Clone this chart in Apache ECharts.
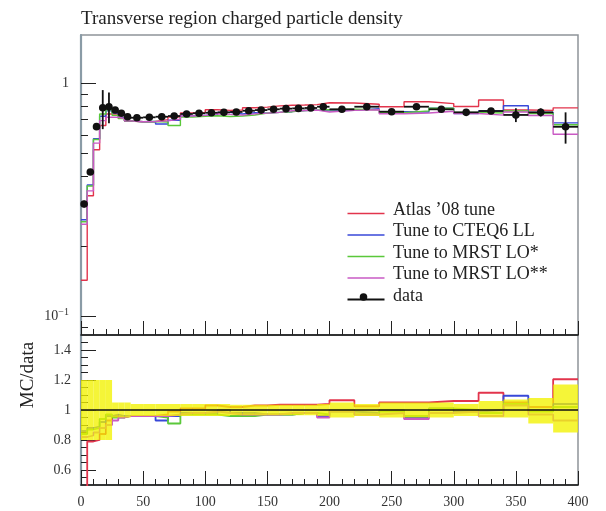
<!DOCTYPE html>
<html><head><meta charset="utf-8">
<script src="https://cdn.jsdelivr.net/npm/echarts@6/dist/echarts.min.js"></script>
<style>html,body{margin:0;padding:0;background:#fff}#c{width:606px;height:511px}</style>
</head><body><div id="c"></div><script>
// ---- data ----
const binEdges = [0,5,10,15,20,25,30,35,40,50,60,70,80,90,100,110,120,130,140,150,160,170,180,190,200,220,240,260,280,300,320,340,360,380,400];
const dataVals = [0.304,0.417,0.653,0.787,0.795,0.770,0.745,0.720,0.713,0.716,0.720,0.725,0.740,0.745,0.749,0.752,0.755,0.764,0.769,0.775,0.780,0.782,0.785,0.795,0.775,0.795,0.757,0.795,0.775,0.752,0.762,0.733,0.752,0.652];
const dataErr  = [0.010,0.010,0.012,0.150,0.120,0.020,0.012,0.010,0.008,0.008,0.008,0.008,0.008,0.008,0.008,0.008,0.008,0.009,0.009,0.009,0.010,0.010,0.010,0.012,0.015,0.015,0.015,0.018,0.018,0.018,0.020,0.050,0.030,0.100];
const mcAtlas08 = [0.143,0.330,0.520,0.660,0.740,0.740,0.710,0.690,0.685,0.687,0.700,0.718,0.747,0.752,0.771,0.767,0.770,0.787,0.792,0.802,0.807,0.809,0.812,0.827,0.825,0.815,0.795,0.835,0.820,0.797,0.850,0.770,0.767,0.786];
const mcCTEQ6  = [0.260,0.367,0.580,0.724,0.763,0.747,0.715,0.691,0.685,0.687,0.670,0.696,0.725,0.730,0.734,0.752,0.740,0.749,0.746,0.752,0.757,0.766,0.769,0.763,0.767,0.779,0.757,0.755,0.783,0.744,0.762,0.803,0.752,0.678];
const mcMRST1  = [0.255,0.363,0.575,0.740,0.771,0.730,0.708,0.691,0.685,0.687,0.684,0.660,0.718,0.723,0.727,0.722,0.725,0.733,0.746,0.752,0.757,0.766,0.769,0.771,0.775,0.771,0.749,0.763,0.783,0.752,0.747,0.762,0.744,0.665];
const mcMRST2  = [0.249,0.346,0.555,0.693,0.716,0.716,0.708,0.691,0.685,0.687,0.691,0.703,0.725,0.730,0.742,0.737,0.732,0.741,0.746,0.752,0.764,0.766,0.769,0.755,0.767,0.771,0.742,0.747,0.760,0.744,0.732,0.755,0.729,0.606];
const ratioAtlas08 = [0.47,0.79,0.80,0.84,0.93,0.96,0.95,0.96,0.96,0.96,0.97,0.99,1.01,1.01,1.03,1.02,1.02,1.03,1.03,1.035,1.035,1.035,1.035,1.04,1.065,1.025,1.05,1.05,1.06,1.06,1.115,1.05,1.02,1.205];
const ratioCTEQ6   = [0.86,0.88,0.89,0.92,0.96,0.97,0.96,0.96,0.96,0.96,0.93,0.96,0.98,0.98,0.98,1.00,0.98,0.98,0.97,0.97,0.97,0.98,0.98,0.96,0.99,0.98,1.00,0.95,1.01,0.99,1.00,1.095,1.00,1.04];
const ratioMRST1   = [0.84,0.87,0.88,0.94,0.97,0.95,0.95,0.96,0.96,0.96,0.95,0.91,0.97,0.97,0.97,0.96,0.96,0.96,0.97,0.97,0.97,0.98,0.98,0.97,1.00,0.97,0.99,0.96,1.01,1.00,0.98,1.04,0.99,1.02];
const ratioMRST2   = [0.82,0.83,0.85,0.88,0.90,0.93,0.95,0.96,0.96,0.96,0.96,0.97,0.98,0.98,0.99,0.98,0.97,0.97,0.97,0.97,0.98,0.98,0.98,0.95,0.99,0.97,0.98,0.94,0.98,0.99,0.96,1.03,0.97,0.93];
const bandLow  = [0.80,0.80,0.80,0.80,0.80,0.95,0.95,0.95,0.96,0.96,0.96,0.96,0.96,0.96,0.96,0.96,0.965,0.965,0.965,0.965,0.965,0.965,0.965,0.96,0.95,0.96,0.95,0.95,0.95,0.96,0.95,0.95,0.91,0.85];
const bandHigh = [1.20,1.20,1.20,1.20,1.20,1.05,1.05,1.05,1.04,1.04,1.04,1.04,1.04,1.04,1.04,1.04,1.035,1.035,1.035,1.035,1.035,1.035,1.035,1.04,1.05,1.04,1.05,1.05,1.05,1.04,1.06,1.07,1.08,1.17];
const xTickLabels = [0,50,100,150,200,250,300,350,400];
const mainMajorTicks = [0.1,1];
const mainMinorTicks = [0.09,0.2,0.3,0.4,0.5,0.6,0.7,0.8,0.9];
const ratioMajorTicks = [0.6,0.8,1,1.2,1.4];
const ratioMinorTicks = [0.55,0.65,0.7,0.75,0.85,0.9,0.95,1.05,1.1,1.15,1.25,1.3,1.35,1.45];
const seriesNames = ['Atlas ’08 tune','Tune to CTEQ6 LL','Tune to MRST LO*','Tune to MRST LO**'];
const seriesColors = ['#e2344c','#3848d8','#5ac83a','#c95ac4'];
const titleText = 'Transverse region charged particle density';
const ratioLabel = 'MC/data';

// ---- build ----
const serif = 'Liberation Serif';
function stepData(vals){ return binEdges.map((e,i)=>[e, vals[Math.min(i, vals.length-1)]]); }
const bins = dataVals.map((v,i)=>[binEdges[i], binEdges[i+1], v, dataErr[i]]);
const bandRows = bandLow.map((l,i)=>[binEdges[i], binEdges[i+1], l, bandHigh[i]]);

const mcUpper = [mcAtlas08, mcCTEQ6, mcMRST1, mcMRST2];
const mcLower = [ratioAtlas08, ratioCTEQ6, ratioMRST1, ratioMRST2];

const series = [];
mcUpper.forEach((vals,k)=>series.push({
  name: seriesNames[k], type:'line', xAxisIndex:0, yAxisIndex:0, step:'end', showSymbol:false,
  data: stepData(vals), lineStyle:{color:seriesColors[k], width:1.4}, itemStyle:{color:seriesColors[k]}, z:2, silent:true
}));
series.push({
  name:'data', type:'custom', xAxisIndex:0, yAxisIndex:0, data:bins, encode:{x:[0,1], y:2}, z:5, silent:true,
  renderItem(params, api){
    const lo=api.value(0), hi=api.value(1), v=api.value(2), e=api.value(3), c=(lo+hi)/2;
    const a=api.coord([lo,v]), b=api.coord([hi,v]), t=api.coord([c,v+e]), d=api.coord([c,v-e]), m=api.coord([c,v]);
    return {type:'group', children:[
      {type:'line', shape:{x1:a[0],y1:a[1],x2:b[0],y2:b[1]}, style:{stroke:'#111', lineWidth:1.8}},
      {type:'line', shape:{x1:t[0],y1:t[1],x2:d[0],y2:d[1]}, style:{stroke:'#111', lineWidth:1.8}},
      {type:'circle', shape:{cx:m[0],cy:m[1],r:3.8}, style:{fill:'#111'}}
    ]};
  }
});
mcLower.forEach((vals,k)=>series.push({
  name: seriesNames[k]+' ratio', type:'line', xAxisIndex:1, yAxisIndex:2, step:'end', showSymbol:false,
  data: stepData(vals), lineStyle:{color:seriesColors[k], width:1.8}, z:2, silent:true,
  markLine: k===0 ? {silent:true, symbol:'none', label:{show:false}, lineStyle:{color:'#111', width:1.6, type:'solid'}, data:[{yAxis:1}]} : undefined
}));
series.push({
  name:'band', type:'custom', xAxisIndex:1, yAxisIndex:2, data:bandRows, encode:{x:[0,1], y:[2,3]}, z:4, silent:true,
  renderItem(params, api){
    const p0=api.coord([api.value(0), api.value(3)]), p1=api.coord([api.value(1), api.value(2)]);
    return {type:'rect', shape:{x:p0[0], y:p0[1], width:p1[0]-p0[0], height:p1[1]-p0[1]}, style:{fill:'rgba(242,242,0,0.78)'}};
  }
});

// legend graphic
const legendItems = seriesNames.map((n,k)=>({name:n, color:seriesColors[k]})).concat([{name:'data', color:'#111'}]);
const graphic = [];
legendItems.forEach((it,k)=>{
  const y = 211 + k*21.5;
  graphic.push({type:'line', left:345, top:y, shape:{x1:0,y1:0,x2:37,y2:0}, style:{stroke:it.color, lineWidth:it.name==='data'?1.8:1.4}, silent:true});
  if (it.name==='data') graphic.push({type:'circle', left:359.7, top:y-3.8, shape:{r:3.8}, style:{fill:'#111'}, silent:true});
  graphic.push({type:'text', left:393, top:y-10, style:{text:it.name, font:'18px "Liberation Serif"', fill:'#222'}, silent:true});
});
graphic.push({type:'text', x:28, y:375, rotation:Math.PI/2, style:{text:ratioLabel, font:'19px "Liberation Serif"', fill:'#222', align:'center', verticalAlign:'middle'}, silent:true});

const axisLabelStyle = {fontFamily:serif, fontSize:14, color:'#333'};
const option = {
  animation:false,
  backgroundColor:'#fff',
  title:{text:titleText, left:76, top:5, textStyle:{fontFamily:serif, fontSize:19, fontWeight:'normal', color:'#222'}},
  grid:[
    {left:81, top:35, width:497, height:300, show:true, borderColor:'#8e9499', borderWidth:1.5, backgroundColor:'transparent'},
    {left:81, top:335, width:497, height:150, show:true, borderColor:'#8e9499', borderWidth:1.5, backgroundColor:'transparent'}
  ],
  xAxis:[
    {gridIndex:0, type:'value', min:0, max:400, interval:50, position:'bottom',
     axisLine:{show:true, lineStyle:{color:'#111', width:1.5}},
     axisTick:{show:true, inside:true, length:14, lineStyle:{color:'#222'}},
     minorTick:{show:true, splitNumber:5, length:6, lineStyle:{color:'#222'}},
     axisLabel:{show:false}, splitLine:{show:false}},
    {gridIndex:1, type:'value', min:0, max:400, interval:50, position:'bottom',
     axisLine:{show:true, lineStyle:{color:'#111', width:1.5}},
     axisTick:{show:true, inside:true, length:14, lineStyle:{color:'#222'}},
     minorTick:{show:true, splitNumber:5, length:6, lineStyle:{color:'#222'}},
     axisLabel:Object.assign({show:true, margin:10, customValues:xTickLabels}, axisLabelStyle), splitLine:{show:false}}
  ],
  yAxis:[
    {gridIndex:0, type:'log', logBase:10, min:0.0833, max:1.615, position:'left',
     axisLine:{show:true, lineStyle:{color:'#8a9ba6', width:2.2}},
     axisTick:{show:true, inside:true, length:15, customValues:mainMajorTicks, lineStyle:{color:'#222'}},
     axisLabel:Object.assign({show:true, margin:12, customValues:mainMajorTicks,
       formatter:v=> v>0.5 ? '1' : '10{s|−1}',
       rich:{s:{fontFamily:serif, fontSize:10, color:'#333', padding:[0,0,9,0]}}}, axisLabelStyle),
     splitLine:{show:false}},
    {gridIndex:0, type:'log', logBase:10, min:0.0833, max:1.615, position:'left',
     axisLine:{show:false},
     axisTick:{show:true, inside:true, length:7, customValues:mainMinorTicks, lineStyle:{color:'#222'}},
     axisLabel:{show:false}, splitLine:{show:false}},
    {gridIndex:1, type:'value', min:0.5, max:1.5, position:'left',
     axisLine:{show:true, lineStyle:{color:'#8a9ba6', width:2.2}},
     axisTick:{show:true, inside:true, length:15, customValues:ratioMajorTicks, lineStyle:{color:'#222'}},
     axisLabel:Object.assign({show:true, margin:10, customValues:ratioMajorTicks,
       formatter:v=>String(Math.round(v*10)/10)}, axisLabelStyle),
     splitLine:{show:false}},
    {gridIndex:1, type:'value', min:0.5, max:1.5, position:'left',
     axisLine:{show:false},
     axisTick:{show:true, inside:true, length:7, customValues:ratioMinorTicks, lineStyle:{color:'#222'}},
     axisLabel:{show:false}, splitLine:{show:false}}
  ],
  graphic: graphic,
  series: series
};
const chart = echarts.init(document.getElementById('c'), null, {renderer:'canvas'});
chart.setOption(option);
</script></body></html>
